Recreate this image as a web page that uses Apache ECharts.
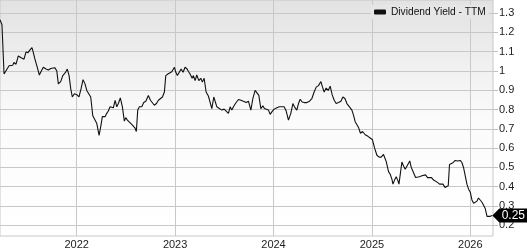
<!DOCTYPE html>
<html>
<head>
<meta charset="utf-8">
<script src="https://cdn.jsdelivr.net/npm/echarts@6/dist/echarts.min.js"></script>
<style>html,body{margin:0;padding:0;background:#fff;}#c{width:527px;height:250px;}</style>
</head>
<body>
<div id="c"></div>
<script>
// time as decimal years
var dates = [2021.220,2021.240,2021.261,2021.281,2021.312,2021.332,2021.349,2021.362,2021.383,2021.406,2021.431,2021.447,2021.464,2021.484,2021.505,2021.525,2021.545,2021.559,2021.573,2021.586,2021.599,2021.620,2021.640,2021.660,2021.688,2021.711,2021.736,2021.756,2021.776,2021.797,2021.813,2021.837,2021.858,2021.874,2021.888,2021.904,2021.922,2021.939,2021.955,2021.976,
2022.000,2022.023,2022.044,2022.064,2022.084,2022.102,2022.118,2022.142,2022.163,2022.183,2022.203,2022.227,2022.247,2022.260,2022.275,2022.288,2022.305,2022.321,2022.339,2022.356,2022.372,2022.390,2022.407,2022.423,2022.443,2022.464,2022.484,2022.498,2022.515,2022.532,2022.559,2022.593,2022.606,2022.620,2022.637,2022.661,2022.681,2022.702,2022.715,2022.728,2022.749,2022.769,2022.789,2022.810,2022.830,2022.850,2022.871,2022.891,2022.905,2022.926,2022.946,2022.966,2022.983,2022.993,
2023.007,2023.023,2023.040,2023.061,2023.081,2023.101,2023.122,2023.135,2023.152,2023.173,2023.186,2023.203,2023.220,2023.241,2023.261,2023.277,2023.295,2023.315,2023.338,2023.349,2023.373,2023.393,2023.407,2023.424,2023.450,2023.475,2023.498,2023.518,2023.542,2023.559,2023.576,2023.593,2023.613,2023.644,2023.668,2023.694,2023.722,2023.745,2023.770,2023.790,2023.813,2023.831,2023.851,2023.871,2023.892,2023.908,2023.925,2023.949,2023.966,2023.983,
2024.007,2024.034,2024.061,2024.085,2024.108,2024.129,2024.152,2024.176,2024.197,2024.213,2024.237,2024.254,2024.271,2024.291,2024.312,2024.339,2024.366,2024.390,2024.413,2024.434,2024.457,2024.482,2024.498,2024.515,2024.535,2024.556,2024.576,2024.596,2024.617,2024.637,2024.661,2024.685,2024.705,2024.726,2024.746,2024.772,2024.797,2024.813,2024.830,2024.848,2024.864,2024.884,2024.905,2024.932,2024.960,2024.983,
2025.006,2025.027,2025.051,2025.074,2025.095,2025.118,2025.146,2025.169,2025.186,2025.204,2025.214,2025.230,2025.247,2025.265,2025.275,2025.288,2025.305,2025.322,2025.339,2025.356,2025.385,2025.400,2025.415,2025.430,2025.444,2025.464,2025.484,2025.509,2025.525,2025.545,2025.566,2025.586,2025.606,2025.627,2025.647,2025.667,2025.688,2025.702,2025.722,2025.743,2025.763,2025.776,2025.789,2025.804,2025.824,2025.847,2025.871,2025.898,2025.916,2025.932,2025.949,2025.966,2025.983,
2026.000,2026.017,2026.034,2026.051,2026.068,2026.084,2026.102,2026.119,2026.135,2026.153,2026.170,2026.186,2026.203,2026.224];

var yields = [1.266,1.24,0.984,0.99,1.027,1.035,1.03,1.044,1.035,1.078,1.07,1.078,1.061,1.098,1.095,1.109,1.121,1.095,1.065,1.061,1.019,0.979,1.0,1.019,1.01,1.005,1.013,1.003,1.017,1.001,0.933,0.945,0.976,0.98,0.994,1.01,0.976,0.908,0.865,0.882,
0.877,0.865,0.908,0.955,0.933,0.899,0.891,0.865,0.768,0.758,0.729,0.666,0.72,0.763,0.771,0.763,0.78,0.792,0.814,0.805,0.809,0.848,0.814,0.831,0.86,0.814,0.74,0.758,0.745,0.75,0.723,0.703,0.686,0.797,0.814,0.814,0.836,0.843,0.836,0.873,0.848,0.835,0.822,0.831,0.848,0.848,0.865,0.891,0.976,0.984,0.979,0.996,0.99,1.019,
0.993,0.976,0.984,1.01,0.993,1.019,1.01,0.997,0.984,0.962,0.976,0.95,0.979,0.95,0.962,0.942,0.962,0.891,0.87,0.877,0.805,0.865,0.857,0.814,0.805,0.797,0.802,0.805,0.78,0.814,0.797,0.814,0.831,0.852,0.848,0.843,0.836,0.843,0.797,0.857,0.899,0.891,0.873,0.805,0.819,0.805,0.814,0.797,0.775,0.788,
0.802,0.809,0.814,0.814,0.814,0.792,0.745,0.78,0.831,0.814,0.797,0.831,0.853,0.839,0.836,0.836,0.843,0.857,0.891,0.916,0.924,0.945,0.916,0.891,0.911,0.899,0.921,0.877,0.848,0.831,0.836,0.843,0.865,0.857,0.831,0.814,0.797,0.771,0.737,0.734,0.707,0.677,0.686,0.669,0.661,0.652,
0.643,0.601,0.563,0.553,0.553,0.567,0.53,0.478,0.464,0.438,0.413,0.434,0.451,0.43,0.413,0.413,0.528,0.507,0.49,0.48,0.533,0.5,0.482,0.464,0.447,0.456,0.451,0.456,0.447,0.461,0.447,0.443,0.447,0.434,0.442,0.422,0.413,0.405,0.413,0.396,0.393,0.405,0.515,0.519,0.524,0.536,0.533,0.536,0.524,0.498,0.456,0.413,0.387,
0.371,0.331,0.314,0.314,0.325,0.341,0.336,0.319,0.303,0.285,0.246,0.256,0.246,0.25];

var xTickYears = [2022, 2023, 2024, 2025, 2026];
var yTicks = [0.2, 0.3, 0.4, 0.5, 0.6, 0.7, 0.8, 0.9, 1.0, 1.1, 1.2, 1.3];
var seriesName = 'Dividend Yield - TTM';

var points = dates.map(function (d, i) { return [d, yields[i]]; });
var last = points[points.length - 1];

var chart = echarts.init(document.getElementById('c'), null, {renderer: 'canvas'});
var font = 'Arial, "Liberation Sans", sans-serif';
chart.setOption({
  animation: false,
  textStyle: {fontFamily: font},
  grid: {
    left: 0, right: 34, top: 0, bottom: 11,
    show: true,
    borderColor: '#c8c8c8', borderWidth: 1,
    backgroundColor: {type: 'linear', x: 0, y: 0, x2: 0, y2: 1,
      colorStops: [{offset: 0, color: '#e2e2e2'}, {offset: 0.5, color: '#fbfbfb'}, {offset: 1, color: '#ffffff'}]}
  },
  legend: {
    show: true,
    left: 371, top: 5,
    padding: [2, 3],
    backgroundColor: '#e6e6e6',
    itemWidth: 12, itemHeight: 5,
    itemGap: 4,
    icon: 'roundRect',
    textStyle: {fontSize: 10.2, color: '#111', fontFamily: font},
    data: [{name: seriesName, itemStyle: {color: '#111'}}]
  },
  xAxis: {
    type: 'value',
    min: 2021.22, max: 2026.231,
    axisLine: {show: false},
    axisTick: {show: false, customValues: xTickYears},
    axisLabel: {show: true, customValues: xTickYears, margin: 3, fontSize: 11, color: '#222', fontFamily: font,
      formatter: function (v) { return String(Math.round(v)); }},
    splitLine: {show: true, lineStyle: {color: '#c8c8c8', width: 1}}
  },
  yAxis: {
    type: 'value',
    position: 'right',
    min: 0.144, max: 1.368,
    axisLine: {show: false},
    axisTick: {show: true, customValues: yTicks, length: 5, lineStyle: {color: '#c0c0c0'}},
    axisLabel: {show: true, customValues: yTicks, margin: 6, fontSize: 11, color: '#222', fontFamily: font,
      formatter: function (v) { return String(Math.round(v * 10) / 10); }},
    splitLine: {show: true, lineStyle: {color: '#c8c8c8', width: 1}}
  },
  series: [{
    name: seriesName,
    type: 'line',
    data: points,
    showSymbol: false,
    symbol: 'none',
    color: '#111',
    lineStyle: {color: '#111', width: 1.1},
    silent: true,
    markPoint: {
      silent: true,
      symbol: 'path://M0,7 L7,0 L36,0 L36,14 L7,14 Z',
      symbolSize: [36, 14],
      symbolKeepAspect: false,
      symbolOffset: [18, 0],
      itemStyle: {color: '#000'},
      label: {show: true, position: 'inside', offset: [3, 0], color: '#fff', fontSize: 12, fontFamily: font,
        formatter: function (p) { return p.value.toFixed(2); }},
      data: [{coord: last, value: last[1]}]
    }
  }]
});
</script>
</body>
</html>
